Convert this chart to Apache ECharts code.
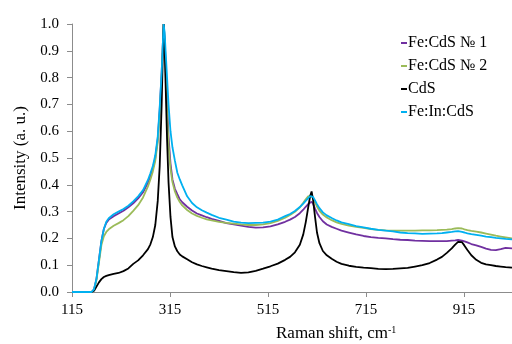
<!DOCTYPE html>
<html>
<head>
<meta charset="utf-8">
<script src="https://cdn.jsdelivr.net/npm/echarts@6/dist/echarts.min.js"></script>
<style>
  html, body { margin: 0; padding: 0; background: #fff; }
  #chart { width: 512px; height: 344px; }
</style>
</head>
<body>
<div id="chart"></div>
<script>
// Raman shift grid, cm-1
const shift = [
  115, 155, 160, 165, 170, 175, 180, 185, 190,
  200, 210, 220, 230, 240, 250, 260, 270,
  275, 280, 285, 290, 294, 298, 300, 302, 304, 306,
  309, 312, 316, 320, 325, 330, 335, 340,
  350, 360, 370, 380, 390, 400,
  415, 430, 445, 460, 475, 490, 505, 520, 535, 550,
  560, 570, 580, 587, 592, 597, 601, 604, 607, 611,
  615, 620, 627, 635, 645, 655, 665, 680, 695, 710,
  725, 740, 755, 770, 785, 800, 815, 830, 845, 860,
  870, 880, 890, 897, 903, 907, 911, 916, 922, 930,
  940, 950, 960, 970, 980, 990, 1000, 1013
];

// Normalized intensities, a. u.
const feCdS1 = [
  0, 0, 0.01, 0.05, 0.12, 0.19, 0.235, 0.258, 0.27,
  0.283, 0.293, 0.303, 0.316, 0.331, 0.349, 0.372, 0.408,
  0.432, 0.462, 0.5, 0.57, 0.68, 0.82, 0.91, 1.0, 0.95, 0.85,
  0.7, 0.58, 0.48, 0.42, 0.385, 0.365, 0.346, 0.335,
  0.318, 0.304, 0.293, 0.286, 0.279, 0.273,
  0.265, 0.257, 0.252, 0.248, 0.243, 0.24, 0.241, 0.245, 0.252, 0.262,
  0.27, 0.28, 0.294, 0.307, 0.318, 0.328, 0.334, 0.337, 0.329, 0.311,
  0.295, 0.28, 0.264, 0.252, 0.243, 0.236, 0.229, 0.222, 0.215, 0.209,
  0.205, 0.202, 0.2, 0.197, 0.195, 0.194, 0.192, 0.191, 0.19, 0.19,
  0.19, 0.19, 0.192, 0.193, 0.194, 0.194, 0.192, 0.189, 0.185, 0.179,
  0.174, 0.168, 0.162, 0.157, 0.156, 0.16, 0.165, 0.163
];

const feCdS2 = [
  0, 0, 0.008, 0.045, 0.11, 0.175, 0.208, 0.224, 0.234,
  0.247, 0.257, 0.268, 0.283, 0.303, 0.324, 0.353, 0.394,
  0.42, 0.45, 0.49, 0.56, 0.66, 0.8, 0.9, 1.0, 0.94, 0.83,
  0.67, 0.55, 0.46, 0.41, 0.375, 0.352, 0.336, 0.323,
  0.306, 0.293, 0.284, 0.277, 0.271, 0.267,
  0.262, 0.258, 0.255, 0.252, 0.25, 0.25, 0.252, 0.257, 0.265, 0.277,
  0.287, 0.299, 0.316, 0.333, 0.346, 0.357, 0.362, 0.36, 0.35, 0.335,
  0.319, 0.303, 0.289, 0.278, 0.268, 0.26, 0.254, 0.248, 0.243, 0.239,
  0.235, 0.232, 0.23, 0.229, 0.229, 0.229, 0.229, 0.23, 0.23, 0.231,
  0.232, 0.233, 0.235, 0.237, 0.238, 0.238, 0.237, 0.234, 0.231, 0.228,
  0.225, 0.222, 0.218, 0.214, 0.21, 0.207, 0.204, 0.2
];

const cds = [
  0, 0, 0.005, 0.02, 0.036, 0.048, 0.056, 0.06, 0.063,
  0.068, 0.071, 0.078, 0.088, 0.105, 0.118, 0.137, 0.16,
  0.178, 0.205, 0.25, 0.34, 0.47, 0.7, 0.86, 1.0, 0.92, 0.78,
  0.57, 0.41, 0.28, 0.205, 0.17, 0.152, 0.14, 0.133,
  0.122, 0.111, 0.103, 0.097, 0.092, 0.087,
  0.082, 0.078, 0.074, 0.071, 0.073, 0.079, 0.087, 0.096, 0.106, 0.12,
  0.131, 0.148, 0.176, 0.215, 0.26, 0.315, 0.358, 0.375, 0.345, 0.28,
  0.222, 0.182, 0.153, 0.137, 0.124, 0.113, 0.105, 0.098, 0.094, 0.091,
  0.089, 0.086, 0.085, 0.086, 0.088, 0.09, 0.095, 0.1, 0.108, 0.121,
  0.131, 0.146, 0.163, 0.177, 0.187, 0.19, 0.186, 0.173, 0.157, 0.137,
  0.12, 0.109, 0.103, 0.1, 0.097, 0.095, 0.093, 0.091
];

const feInCdS = [
  0, 0, 0.01, 0.05, 0.12, 0.19, 0.235, 0.262, 0.275,
  0.29, 0.3, 0.31, 0.322, 0.338, 0.357, 0.38, 0.418,
  0.443, 0.47, 0.51, 0.58, 0.69, 0.82, 0.91, 1.0, 0.97, 0.9,
  0.8, 0.7, 0.6, 0.54, 0.49, 0.445, 0.42, 0.398,
  0.357, 0.332, 0.316, 0.305, 0.296, 0.288,
  0.277, 0.27, 0.263, 0.259, 0.257, 0.258, 0.259, 0.263, 0.27, 0.283,
  0.291, 0.302, 0.317, 0.33, 0.34, 0.35, 0.358, 0.362, 0.355, 0.342,
  0.328, 0.313, 0.297, 0.286, 0.276, 0.267, 0.26, 0.253, 0.246, 0.241,
  0.236, 0.232, 0.229, 0.226, 0.222, 0.22, 0.219, 0.217, 0.218, 0.219,
  0.22, 0.222, 0.224, 0.226, 0.227, 0.226, 0.224, 0.222, 0.219, 0.216,
  0.213, 0.21, 0.207, 0.205, 0.202, 0.2, 0.198, 0.196
];

const seriesNames = ['Fe:CdS № 1', 'Fe:CdS № 2', 'CdS', 'Fe:In:CdS'];
const seriesColors = ['#7030A0', '#9BBB59', '#000000', '#00B0F0'];
const seriesValues = [feCdS1, feCdS2, cds, feInCdS];
const xTicks = [115, 315, 515, 715, 915];

const serif = '"Liberation Serif", "Times New Roman", serif';
const axisGray = '#8c8c8c';

const chart = echarts.init(document.getElementById('chart'), null, { renderer: 'canvas' });

chart.setOption({
  animation: false,
  backgroundColor: '#ffffff',
  grid: { left: 72, right: 0, top: 24, bottom: 52, containLabel: false },
  title: {
    text: 'Raman shift, cm{s|-1}',
    left: 276,
    top: 325,
    padding: 0,
    textStyle: {
      fontFamily: serif, fontSize: 17, fontWeight: 'normal', color: '#000',
      rich: { s: { fontFamily: serif, fontSize: 10, verticalAlign: 'top', color: '#000' } }
    }
  },
  legend: {
    orient: 'vertical',
    left: 401,
    top: 35,
    itemWidth: 6,
    itemHeight: 2,
    itemGap: 7,
    icon: 'rect',
    padding: 0,
    data: seriesNames,
    textStyle: { fontFamily: serif, fontSize: 16, color: '#000', padding: [0, 0, 0, -4] }
  },
  xAxis: {
    type: 'value',
    min: 115,
    max: 1013,
    splitLine: { show: false },
    axisLine: { lineStyle: { color: axisGray, width: 1 } },
    axisTick: { show: true, length: 5, customValues: xTicks, lineStyle: { color: axisGray } },
    axisLabel: {
      customValues: xTicks,
      margin: 11,
      fontFamily: serif, fontSize: 15, color: '#000'
    }
  },
  yAxis: {
    type: 'value',
    min: 0,
    max: 1,
    interval: 0.1,
    name: 'Intensity (a. u.)',
    nameLocation: 'middle',
    nameRotate: 90,
    nameGap: 42,
    nameTextStyle: { fontFamily: serif, fontSize: 17, color: '#000' },
    splitLine: { show: false },
    axisLine: { show: true, lineStyle: { color: axisGray, width: 1 } },
    axisTick: { show: true, length: 5, lineStyle: { color: axisGray } },
    axisLabel: {
      margin: 13,
      fontFamily: serif, fontSize: 15, color: '#000',
      formatter: v => v.toFixed(1)
    }
  },
  series: seriesNames.map((name, i) => ({
    name: name,
    type: 'line',
    symbol: 'none',
    smooth: false,
    color: seriesColors[i],
    lineStyle: { width: 1.8, color: seriesColors[i] },
    data: shift.map((x, k) => [x, seriesValues[i][k]])
  }))
});
</script>
</body>
</html>
